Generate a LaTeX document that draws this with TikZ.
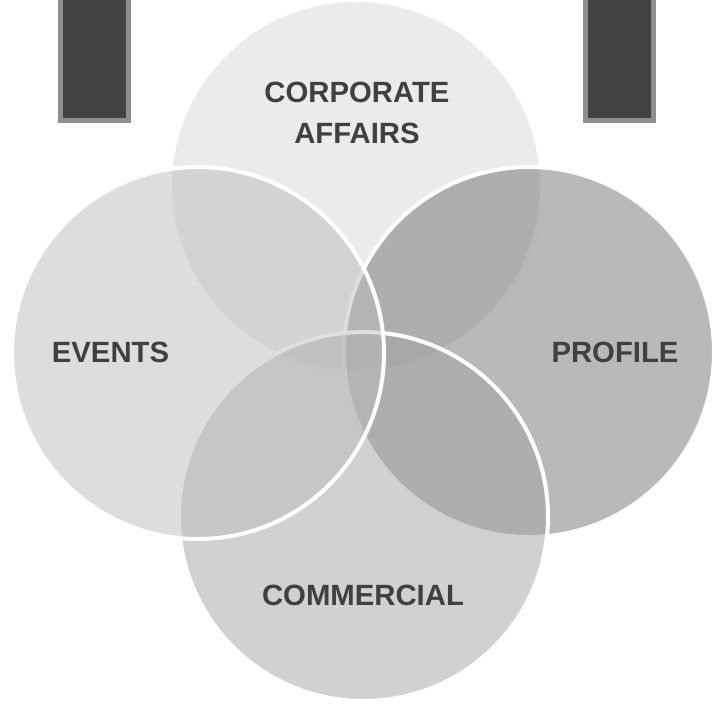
\documentclass[tikz,border=0pt]{standalone}
\usepackage{fontspec}
\setmainfont{Liberation Sans}
\definecolor{ctop}{gray}{0.843}
\definecolor{cleft}{gray}{0.737}
\definecolor{cright}{gray}{0.451}
\definecolor{cbottom}{gray}{0.64}
\definecolor{txt}{HTML}{404040}
\definecolor{barfill}{HTML}{434343}
\definecolor{barline}{HTML}{8F8F8F}
\tikzset{
  venn/.style={circle, fill=#1, fill opacity=0.5, draw=white, draw opacity=1, line width=4pt, inner sep=0pt},
  lbl/.style={text=txt, font=\fontsize{29.3}{41}\selectfont\bfseries, align=center, inner sep=0pt},
  bar/.style={fill=barfill, draw=barline, line width=5pt}
}
\begin{document}
\begin{tikzpicture}[x=1pt,y=-1pt]
\useasboundingbox (0,0) rectangle (726,705);
\clip (0,0) rectangle (726,705);
% bars
\draw[bar] (60.5,-20) rectangle (128.5,120.5);
\draw[bar] (585.5,-20) rectangle (653.5,120.5);
% circles
\node[venn=ctop, minimum size=372pt] (top) at (356,186) {};
\node[venn=cright, minimum size=370pt] (right) at (529,352) {};
\node[venn=cbottom, minimum size=369pt] (bottom) at (363.5,516.5) {};
\node[venn=cleft, minimum size=372pt] (left) at (198,353) {};
% labels
\node[lbl] (ltop) at (357,112.5) {CORPORATE\\AFFAIRS};
\node[lbl] (lleft) at (110.5,352.5) {EVENTS};
\node[lbl] (lright) at (615,352.5) {PROFILE};
\node[lbl] (lbottom) at (363,595.5) {COMMERCIAL};
\end{tikzpicture}
\end{document}
